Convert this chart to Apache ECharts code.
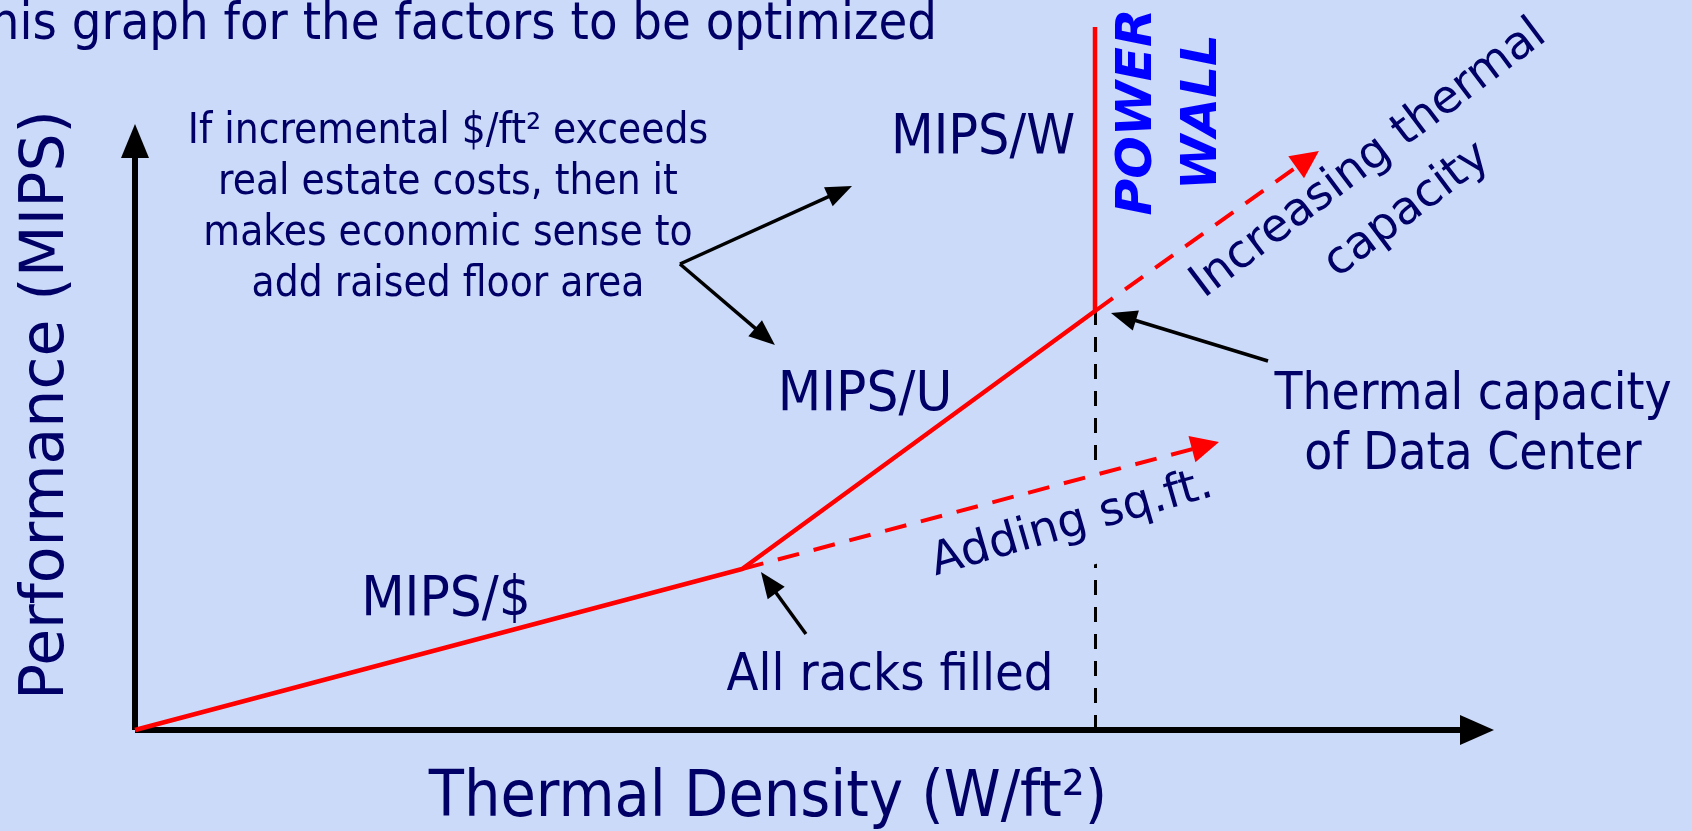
<!DOCTYPE html>
<html>
<head>
<meta charset="utf-8">
<script src="https://cdn.jsdelivr.net/npm/echarts@6/dist/echarts.min.js"></script>
<style>
html,body{margin:0;padding:0;background:#CCDAFA;}
#c{width:1692px;height:831px;}
</style>
</head>
<body>
<div id="c"></div>
<script>
// ---- data (conceptual units, x: thermal density 0..100, y: performance 0..100) ----
var curveX = [0, 44.67, 70.64, 70.64];
var curveY = [0, 22.90, 59.60, 100];
var addSqFtEnd = [78.77, 40.46];
var thermalCapEnd = [86.28, 81.21];
var powerWallX = 70.64;
var powerWallBaseY = 59.60;
var axisXEnd = 98.75;
var axisYEnd = 83.8;
// annotation pointer arrows: [fromX, fromY, toX, toY]
var noteElbowToW = [40.10, 66.29, 51.89, 76.61];
var noteElbowToU = [40.10, 66.29, 46.36, 55.96];
var noteThermalCap = [83.37, 52.49, 72.73, 58.78];
var noteRacksFilled = [49.37, 13.66, 46.62, 20.98];

var labelTitle = 'his graph for the factors to be optimized';
var labelYAxis = 'Performance (MIPS)';
var labelXAxis = 'Thermal Density (W/ft\u00B2)';
var labelNote = 'If incremental $/ft\u00B2 exceeds\nreal estate costs, then it\nmakes economic sense to\nadd raised floor area';
var labelW = 'MIPS/W', labelU = 'MIPS/U', labelD = 'MIPS/$';
var labelRacks = 'All racks filled';
var labelCap = 'Thermal capacity\nof Data Center';
var labelWall = 'POWER\nWALL';
var labelInc = 'Increasing thermal\ncapacity';
var labelSq = 'Adding sq.ft.';

var BG = '#CCDAFA';
var NAVY = '#000066';
var COND = '"DejaVu Sans Condensed", "DejaVu Sans", sans-serif';
var WIDE = '"DejaVu Sans", Verdana, sans-serif';

function seg(a, color, width, type, arrow, size) {
  return [{coord: [a[0], a[1]], symbol: 'none', lineStyle: {color: color, width: width, type: type}},
          {coord: [a[2], a[3]], symbol: arrow ? 'triangle' : 'none', symbolSize: size}];
}
function ml(items, z) {
  return {
    z: z, silent: true, animation: false, label: {show: false},
    emphasis: {disabled: true}, symbol: ['none', 'triangle'], data: items
  };
}

var curve = curveX.map(function (x, i) { return [x, curveY[i]]; });

var chart = echarts.init(document.getElementById('c'), null, {renderer: 'canvas'});
chart.setOption({
  backgroundColor: BG,
  animation: false,
  grid: {left: 135, right: 198, top: 27, bottom: 101},
  xAxis: {type: 'value', min: 0, max: 100, show: false},
  yAxis: {type: 'value', min: 0, max: 100, show: false},
  series: [
    {
      type: 'line', data: [], silent: true, z: 1,
      markLine: ml([
        seg([powerWallX, 0, powerWallX, powerWallBaseY], '#000', 3, [15, 12], false)
      ], 1)
    },
    {
      type: 'line', data: [], silent: true, z: 3,
      markLine: ml([
        seg([0, 0, 0, axisYEnd], '#000', 6, 'solid', true, [28, 34]),
        seg([0, 0, axisXEnd, 0], '#000', 6, 'solid', true, [30, 34]),
        seg([curveX[1], curveY[1], addSqFtEnd[0], addSqFtEnd[1]], '#FF0000', 4, [22, 15], true, [27, 28]),
        seg([curveX[2], curveY[2], thermalCapEnd[0], thermalCapEnd[1]], '#FF0000', 4, [22, 15], true, [27, 28]),
        seg(noteElbowToW, '#000', 3.5, 'solid', true, [21, 26]),
        seg(noteElbowToU, '#000', 3.5, 'solid', true, [21, 26]),
        seg(noteThermalCap, '#000', 3.5, 'solid', true, [21, 26]),
        seg(noteRacksFilled, '#000', 3.5, 'solid', true, [21, 26])
      ], 3)
    },
    {
      type: 'line', data: curve, symbol: 'none', silent: true,
      lineStyle: {color: '#FF0000', width: 4.5}, z: 5
    }
  ],
  graphic: [
    {type: 'text', z: 10, x: 937, y: 25, style: {text: labelTitle, font: '52px ' + COND, fill: NAVY, textAlign: 'right', textVerticalAlign: 'middle'}},
    {type: 'text', z: 10, x: 47, y: 405, rotation: Math.PI / 2, style: {text: labelYAxis, font: '60px ' + WIDE, fill: NAVY, textAlign: 'center', textVerticalAlign: 'middle'}},
    {type: 'text', z: 10, x: 768, y: 799, style: {text: labelXAxis, font: '64px ' + COND, fill: NAVY, textAlign: 'center', textVerticalAlign: 'middle'}},
    {type: 'text', z: 10, x: 448, y: 209, style: {text: labelNote, font: '42px ' + COND, lineHeight: 51, fill: NAVY, textAlign: 'center', textVerticalAlign: 'middle'}},
    {type: 'text', z: 10, x: 983, y: 139, style: {text: labelW, font: '55px ' + COND, fill: NAVY, textAlign: 'center', textVerticalAlign: 'middle'}},
    {type: 'text', z: 10, x: 865, y: 395, style: {text: labelU, font: '56px ' + COND, fill: NAVY, textAlign: 'center', textVerticalAlign: 'middle'}},
    {type: 'text', z: 10, x: 446, y: 600, style: {text: labelD, font: '56px ' + COND, fill: NAVY, textAlign: 'center', textVerticalAlign: 'middle'}},
    {type: 'text', z: 10, x: 890, y: 676, style: {text: labelRacks, font: '52px ' + COND, fill: NAVY, textAlign: 'center', textVerticalAlign: 'middle'}},
    {type: 'text', z: 10, x: 1473, y: 426, style: {text: labelCap, font: '51px ' + COND, lineHeight: 60, fill: NAVY, textAlign: 'center', textVerticalAlign: 'middle'}},
    {type: 'text', z: 10, x: 1171, y: 112, rotation: Math.PI / 2, style: {text: labelWall, font: 'italic bold 50px ' + WIDE, lineHeight: 65, fill: '#0000FF', textAlign: 'center', textVerticalAlign: 'middle'}},
    {type: 'text', z: 10, x: 1388, y: 185, rotation: 37 * Math.PI / 180, style: {text: labelInc, font: '46px ' + WIDE, lineHeight: 64, fill: NAVY, textAlign: 'center', textVerticalAlign: 'middle'}},
    {type: 'text', z: 2, x: 1072, y: 524, rotation: 16 * Math.PI / 180, style: {text: labelSq, font: '46px ' + WIDE, fill: NAVY, backgroundColor: BG, padding: [22, 6], textAlign: 'center', textVerticalAlign: 'middle'}}
  ]
});
</script>
</body>
</html>
